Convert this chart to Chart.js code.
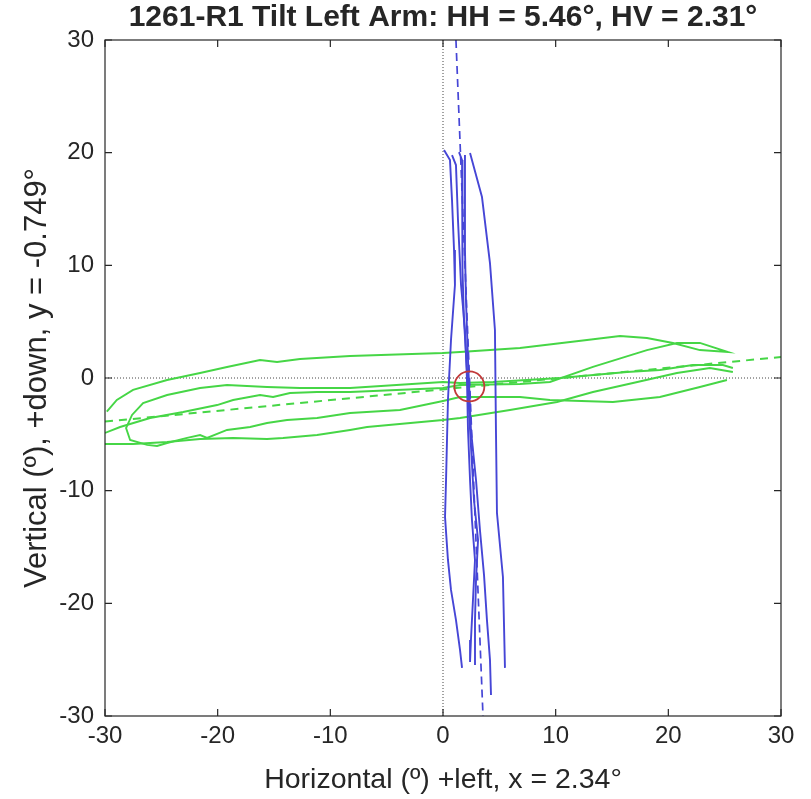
<!DOCTYPE html>
<html>
<head>
    <title>1261-R1 Tilt Left Arm</title>
    <script src="https://cdn.jsdelivr.net/npm/chart.js"></script>
    <style>
        body {
            margin: 0;
            background: white;
        }
        canvas {
            display: block;
        }
    </style>
</head>
<body>
    <canvas id="tiltChart" width="811" height="799"></canvas>

<script>
    // axis ticks
    const tickValues = [-30, -20, -10, 0, 10, 20, 30];
    const chartTitle = '1261-R1 Tilt Left Arm: HH = 5.46°, HV = 2.31°';

    // vertical sweeps (blue)
    const blue1X = [0.09, 0.62, 0.80, 0.98, 1.06, 0.71, 0.44, 0.27, 0.18, 0.44, 0.71, 1.15, 1.51, 1.69];
    const blue1Y = [20.23, 19.34, 15.79, 11.36, 8.25, 3.37, -1.95, -9.05, -12.33, -16.15, -18.81, -21.47, -24.13, -25.73];
    const blue2X = [0.80, 1.15, 1.33, 1.60, 1.95, 2.13, 2.22, 2.40, 2.57, 2.84, 2.66, 2.48, 2.40];
    const blue2Y = [19.79, 18.90, 14.02, 8.25, 4.26, -0.18, -4.61, -9.05, -12.60, -16.15, -19.70, -23.25, -25.20];
    const blue3X = [1.42, 1.69, 1.77, 1.69, 1.86, 2.13, 2.40, 2.75, 3.11, 2.93, 2.84, 2.84];
    const blue3Y = [20.05, 19.34, 14.02, 9.58, 5.15, 0.71, -4.61, -10.83, -14.37, -17.92, -21.47, -25.47];
    const blue4X = [1.95, 1.95, 2.04, 2.22, 2.48, 2.93, 3.28, 3.64, 3.90, 4.17, 4.26];
    const blue4Y = [19.79, 11.36, 6.92, 1.60, -4.61, -9.05, -13.49, -17.48, -21.47, -25.02, -28.13];
    const blue5X = [2.40, 3.46, 4.17, 4.61, 4.70, 4.79, 5.32, 5.50];
    const blue5Y = [19.96, 16.06, 10.20, 4.26, -4.61, -11.98, -17.66, -25.73];

    // horizontal sweeps (green)
    const greenAX = [-29.84, -28.95, -27.51, -24.49, -21.56, -19.17, -16.24, -14.73, -12.69, -8.25, 0, 1.51, 6.83, 12.78, 15.71, 18.10, 20.41, 22.80, 25.29,
                     22.80, 20.76, 18.10, 13.31, 9.49, 6.83, 1.51, 0, -8.25, -11.18, -13.58, -15.08, -16.24, -18.63, -20.05, -23.07, -26.00, -28.66, -30.0];
    const greenAY = [-2.99, -1.95, -1.06, -0.18, 0.44, 0.98, 1.60, 1.42, 1.69, 1.95, 2.22, 2.31, 2.66, 3.37, 3.73, 3.55, 3.11, 2.48, 2.31,
                     3.11, 3.11, 2.48, 0.98, -0.35, -0.53, -0.62, -0.89, -1.24, -1.24, -1.33, -1.69, -1.51, -1.95, -2.40, -3.02, -3.55, -4.35, -4.88];
    const greenBX = [25.73, 24.84, 22.18, 19.25, 16.33, 10.38, 4.44, 1.51, 0, -8.25, -12.69, -15.62, -19.17, -21.56, -24.49, -26.62, -27.60, -28.13, -27.77, -26.26,
                     -25.38, -24.49, -22.71, -21.56, -20.94, -19.17, -17.12, -15.62, -13.84, -11.18, -8.25, -3.82, 0, 1.51, 6.83, 9.49, 15.08, 19.25, 22.80, 25.20];
    const greenBY = [0.89, 1.15, 1.15, 0.71, 0.53, 0, -0.35, -0.44, -0.35, -0.89, -0.89, -0.80, -0.62, -0.89, -1.51, -2.22, -3.28, -4.44, -5.50, -5.94,
                     -6.03, -5.77, -5.32, -5.06, -5.32, -4.61, -4.35, -3.99, -3.73, -3.55, -3.11, -2.84, -2.04, -1.69, -1.69, -1.95, -2.13, -1.69, -0.80, -0.18];
    const greenCX = [-30.0, -27.51, -24.49, -21.56, -18.63, -15.62, -14.20, -11.18, -8.25, -6.74, 0, 1.51, 5.94, 10.12, 13.31, 16.86, 20.76, 23.69, 25.73];
    const greenCY = [-5.86, -5.86, -5.68, -5.41, -5.32, -5.41, -5.32, -5.06, -4.61, -4.35, -3.73, -3.55, -2.84, -2.13, -1.24, -0.44, 0.44, 0.89, 0.53];

    // regression lines
    const blueFitX = [1.15, 3.55];
    const blueFitY = [30, -30];
    const greenFitX = [-30, 30];
    const greenFitY = [-3.87, 1.86];

    // mean position
    const meanX = [2.34];
    const meanY = [-0.749];

    // reference zero lines
    const zeroVX = [0, 0], zeroVY = [-30, 30];
    const zeroHX = [-30, 30], zeroHY = [0, 0];

    const pts = (xs, ys) => xs.map((x, i) => ({x: x, y: ys[i]}));

    const FONT = "'Liberation Sans', Arial, Helvetica, sans-serif";
    const INK = '#262626';
    const BLUE = '#4646d6';
    const GREEN = '#46d646';

    const trace = (xs, ys, color) => ({
        data: pts(xs, ys), showLine: true, borderColor: color, borderWidth: 1.9,
        pointRadius: 0, tension: 0, fill: false
    });

    // box round the plot, inward ticks and the title centred over the axes
    const boxPlugin = {
        id: 'box',
        afterDraw(chart) {
            const {ctx, chartArea: a, scales: {x, y}} = chart;
            ctx.save();
            ctx.strokeStyle = INK;
            ctx.lineWidth = 1.2;
            ctx.strokeRect(a.left, a.top, a.right - a.left, a.bottom - a.top);
            ctx.beginPath();
            x.ticks.forEach(t => {
                const px = x.getPixelForValue(t.value);
                ctx.moveTo(px, a.bottom); ctx.lineTo(px, a.bottom - 7);
                ctx.moveTo(px, a.top); ctx.lineTo(px, a.top + 7);
            });
            y.ticks.forEach(t => {
                const py = y.getPixelForValue(t.value);
                ctx.moveTo(a.left, py); ctx.lineTo(a.left + 7, py);
                ctx.moveTo(a.right, py); ctx.lineTo(a.right - 7, py);
            });
            ctx.stroke();

            ctx.fillStyle = INK;
            ctx.font = 'bold 30px ' + FONT;
            ctx.textAlign = 'center';
            ctx.textBaseline = 'middle';
            ctx.fillText(chartTitle, (a.left + a.right) / 2, 18);
            ctx.restore();
        }
    };

    new Chart(document.getElementById('tiltChart'), {
        type: 'scatter',
        data: {
            datasets: [
                { data: pts(meanX, meanY), pointRadius: 15, pointBorderWidth: 1.8, pointBorderColor: '#c23a3a', pointBackgroundColor: 'rgba(0,0,0,0)', showLine: false },
                Object.assign(trace(blueFitX, blueFitY, BLUE), { borderDash: [8, 5], borderWidth: 1.7 }),
                trace(blue1X, blue1Y, BLUE),
                trace(blue2X, blue2Y, BLUE),
                trace(blue3X, blue3Y, BLUE),
                trace(blue4X, blue4Y, BLUE),
                trace(blue5X, blue5Y, BLUE),
                Object.assign(trace(greenFitX, greenFitY, GREEN), { borderDash: [8, 6], borderWidth: 2 }),
                trace(greenAX, greenAY, GREEN),
                trace(greenBX, greenBY, GREEN),
                trace(greenCX, greenCY, GREEN),
                Object.assign(trace(zeroVX, zeroVY, '#444'), { borderDash: [1, 2], borderWidth: 1 }),
                Object.assign(trace(zeroHX, zeroHY, '#444'), { borderDash: [1, 2], borderWidth: 1 })
            ]
        },
        options: {
            responsive: false,
            animation: false,
            layout: { padding: { left: 0, right: 30, top: 40, bottom: 0 } },
            plugins: {
                legend: { display: false },
                tooltip: { enabled: false },
                title: { display: false }
            },
            scales: {
                x: {
                    type: 'linear', min: -30, max: 30,
                    afterBuildTicks: s => { s.ticks = tickValues.map(v => ({value: v})); },
                    afterFit: s => { s.height = 83; },
                    grid: { display: false, drawTicks: false },
                    border: { display: false },
                    ticks: { color: INK, font: { family: FONT, size: 24 }, padding: 6, maxRotation: 0 },
                    title: {
                        display: true, text: 'Horizontal (º) +left, x = 2.34°', color: INK,
                        font: { family: FONT, size: 28.5 }, padding: { top: 0, bottom: 2 }
                    }
                },
                y: {
                    type: 'linear', min: -30, max: 30,
                    afterBuildTicks: s => { s.ticks = tickValues.map(v => ({value: v})); },
                    afterFit: s => { s.width = 105; },
                    grid: { display: false, drawTicks: false },
                    border: { display: false },
                    ticks: { color: INK, font: { family: FONT, size: 24 }, padding: 11 },
                    title: {
                        display: true, text: 'Vertical (º), +down, y = -0.749°', color: INK,
                        font: { family: FONT, size: 31 }, padding: { top: 19, bottom: 0 }
                    }
                }
            }
        },
        plugins: [boxPlugin]
    });
</script>
</body>
</html>
